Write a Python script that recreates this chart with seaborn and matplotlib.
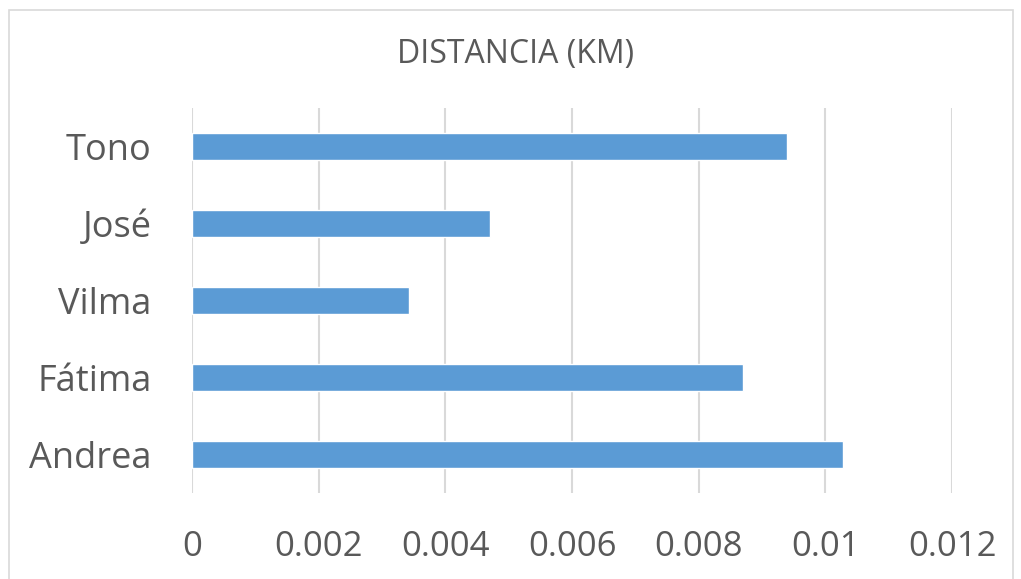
import matplotlib
matplotlib.use("Agg")
import matplotlib.pyplot as plt
from matplotlib.patches import Rectangle
import seaborn as sns
import pandas as pd

# Distance covered by each person, in kilometres
names = ["Tono", "José", "Vilma", "Fátima", "Andrea"]
distances_km = [0.0094, 0.00471, 0.00342, 0.0087, 0.01028]
x_ticks = [0, 0.002, 0.004, 0.006, 0.008, 0.01, 0.012]
x_tick_labels = ["0", "0.002", "0.004", "0.006", "0.008", "0.01", "0.012"]
title = "DISTANCIA (KM)"

sns.set_style("white")
plt.rcParams["font.family"] = ["Open Sans", "DejaVu Sans"]

text_color = "#595959"
grid_color = "#D9D9D9"
bar_color = "#5B9BD5"

df = pd.DataFrame({"nombre": names, "distancia": distances_km})

fig = plt.figure(figsize=(10.21, 5.79), dpi=100)
ax = fig.add_axes([192 / 1021, 1 - 493 / 579, (952 - 192) / 1021, (493 - 107.5) / 579])

sns.barplot(data=df, x="distancia", y="nombre", order=names, orient="h",
            color=bar_color, saturation=1, width=0.35, ax=ax, zorder=3)

ax.set_xlim(0, 0.012)
ax.set_xticks(x_ticks)
ax.set_xticklabels(x_tick_labels)
ax.set_xlabel("")
ax.set_ylabel("")
ax.grid(axis="x", color=grid_color, linewidth=1.5, zorder=0)
ax.grid(axis="y", visible=False)
for s in ax.spines.values():
    s.set_visible(False)
ax.tick_params(axis="both", length=0, colors=text_color)
ax.tick_params(axis="x", pad=27, labelsize=25)
ax.tick_params(axis="y", pad=29, labelsize=26)

fig.text(516 / 1021, 1 - 55 / 579, title, ha="center", va="center",
         fontsize=23, color=text_color)

# Light chart-area frame
fig.add_artist(Rectangle((9 / 1021, -0.05), 1004 / 1021, 1.05 - 10 / 579,
                         transform=fig.transFigure, fill=False,
                         edgecolor=grid_color, linewidth=1.2))

fig.savefig("out.png", dpi=100)
